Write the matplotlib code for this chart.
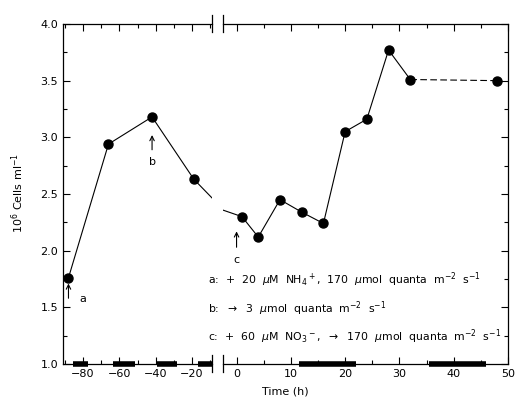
import matplotlib
matplotlib.use('Agg')
import matplotlib.pyplot as plt
from matplotlib.ticker import MultipleLocator

plt.rcParams['font.family'] = 'DejaVu Sans'
plt.rcParams['font.size'] = 8
plt.rcParams['mathtext.fontset'] = 'dejavusans'

# data (time in h, 10^6 cells per ml)
time_h = [-88, -66, -42, -19, 1, 4, 8, 12, 16, 20, 24, 28, 32, 48]
cells = [1.76, 2.94, 3.18, 2.63, 2.30, 2.12, 2.45, 2.34, 2.24, 3.05, 3.16, 3.77, 3.51, 3.50]

# dark periods (black bars on the time axis)
dark_start = [-85.5, -63.5, -39.5, -16.5, 11.5, 35.5]
dark_end = [-77.5, -51.5, -28.5, -9.0, 22.0, 46.0]

# treatment arrows
arrow_t = [-88, -42, 0]
arrow_tip = [1.71, 3.02, 2.17]
arrow_tail = [1.58, 2.89, 2.03]
arrow_lab = ['a', 'b', 'c']
arrow_lab_dx = [8, 0, 0]
arrow_lab_y = [1.57, 2.78, 1.92]

notes = [
    r'a:  +  20  $\mu$M  NH$_4$$^+$,  170  $\mu$mol  quanta  m$^{-2}$  s$^{-1}$',
    r'b:  $\rightarrow$  3  $\mu$mol  quanta  m$^{-2}$  s$^{-1}$',
    r'c:  +  60  $\mu$M  NO$_3$$^-$,  $\rightarrow$  170  $\mu$mol  quanta  m$^{-2}$  s$^{-1}$',
]

fig = plt.figure(figsize=(5.17, 4.03), dpi=100)
bottom, height = 0.0968, 0.8437
ax1 = fig.add_axes([0.1219, bottom, 0.2882, height])
ax2 = fig.add_axes([0.4313, bottom, 0.5513, height])

ax1.set_xlim(-91, -9)
ax2.set_xlim(-2.5, 50)

for ax in (ax1, ax2):
    ax.set_ylim(1.0, 4.0)
    ax.plot(time_h[:13], cells[:13], color='black', lw=0.8, zorder=2)
    ax.plot(time_h[12:], cells[12:], color='black', lw=0.8, dashes=(6, 3), zorder=2)
    ax.plot(time_h, cells, 'o', color='black', ms=6.5, zorder=3)
    ax.yaxis.set_major_locator(MultipleLocator(0.5))
    ax.yaxis.set_minor_locator(MultipleLocator(0.25))
    ax.tick_params(which='both', direction='in', top=True, width=0.8)
    ax.tick_params(which='major', length=5)
    ax.tick_params(which='minor', length=3)
    for s in ax.spines.values():
        s.set_linewidth(0.9)

# dark bars: left-hand ones on ax1, the rest on ax2
for s0, s1 in zip(dark_start, dark_end):
    ax = ax1 if s1 < -5 else ax2
    ax.hlines(1.0, s0, s1, color='black', lw=4, clip_on=False, zorder=4)

ax1.set_xticks([-80, -60, -40, -20])
ax1.xaxis.set_minor_locator(MultipleLocator(10))
ax1.spines['right'].set_visible(False)
ax1.tick_params(axis='y', which='both', right=False)
ax1.yaxis.set_major_formatter(plt.FuncFormatter(lambda v, p: f'{v:.1f}'))

ax2.xaxis.set_major_locator(MultipleLocator(10))
ax2.xaxis.set_minor_locator(MultipleLocator(5))
ax2.spines['left'].set_visible(False)
ax2.tick_params(axis='y', which='both', left=False, right=True, labelleft=False)

# axis break marks
brk = dict(color='black', lw=0.9, clip_on=False)
for y0 in (0.0, 1.0):
    ax1.plot([1, 1], [y0 - 0.025, y0 + 0.025], transform=ax1.transAxes, **brk)
    ax2.plot([0, 0], [y0 - 0.025, y0 + 0.025], transform=ax2.transAxes, **brk)

# treatment arrows
for t, tip, tail, lab, dx, ly in zip(arrow_t, arrow_tip, arrow_tail, arrow_lab,
                                      arrow_lab_dx, arrow_lab_y):
    ax = ax1 if t < -5 else ax2
    ax.annotate('', xy=(t, tip), xytext=(t, tail),
                arrowprops=dict(arrowstyle='->', lw=0.8, color='black',
                                shrinkA=0, shrinkB=0))
    ax.text(t + dx, ly, lab, ha='center', va='center', fontsize=8)

for i, s in enumerate(notes):
    fig.text(208 / 517, 1 - (280 + 28.5 * i) / 403, s, ha='left', va='center',
             fontsize=7.8)

fig.text(18 / 517, 0.52, r'10$^6$ Cells ml$^{-1}$', rotation=90,
         ha='center', va='center', fontsize=8)
fig.text(285 / 517, 1 - 392 / 403, 'Time (h)', ha='center', va='center',
         fontsize=8)

fig.savefig('out.png', dpi=100, facecolor='white')
